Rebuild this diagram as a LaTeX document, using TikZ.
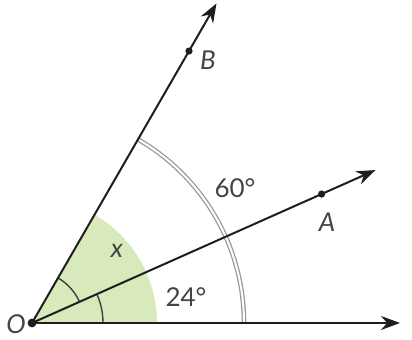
\documentclass[tikz,border=0pt]{standalone}
\usepackage{fontspec}
\setmainfont{Lato}
\usetikzlibrary{arrows.meta}
\definecolor{AngGreen}{HTML}{D8E9BC}
\definecolor{RayInk}{HTML}{1E1E1E}
\definecolor{LblInk}{HTML}{444444}

\begin{document}
\begin{tikzpicture}[
  x=0.5pt, y=0.5pt,
  ray/.style={-{Stealth[length=9.5pt,width=7pt]}, line width=1pt, RayInk},
  dot/.style={circle, fill=RayInk, inner sep=0pt, minimum size=3.6pt},
  lbl/.style={text=LblInk, font=\fontsize{13}{15}\selectfont, inner sep=0pt},
  anglemark/.style={line width=0.7pt, RayInk!85},
  bigarc/.style={draw=gray!80, double=white, double distance=1pt, line width=0.65pt}
]
\useasboundingbox (-32,-17) rectangle (380,323);

\coordinate (O) at (0,0);
\coordinate (tipH) at (0:368);
\coordinate (tipA) at (24:376);
\coordinate (tipB) at (60:369);

% shaded angle at O
\fill[AngGreen] (O) -- (0:125) arc[start angle=0, end angle=60, radius=125] -- cycle;
\draw[anglemark] (0:71) arc[start angle=0, end angle=24, radius=71];
\draw[anglemark] (24:52) arc[start angle=24, end angle=60, radius=52];
\draw[bigarc] (0:212) arc[start angle=0, end angle=60, radius=212];

% rays
\draw[ray] (O) -- (tipH);
\draw[ray] (O) -- (tipA);
\draw[ray] (O) -- (tipB);

\node[dot] (A) at (24:317) {};
\node[dot] (B) at (60:314) {};
\node[dot, minimum size=4.4pt] (Odot) at (O) {};

% labels
\node[lbl] (labO) at (-16,-1) {\itshape O};
\node[lbl] (labA) at (295,101) {\itshape A};
\node[lbl] (labB) at (176,263) {\itshape B};
\node[lbl] (labx) at (85,72) {\itshape x};
\node[lbl] (lab24) at (154,26) {24°};
\node[lbl] (lab60) at (203,135) {60°};
\end{tikzpicture}
\end{document}
